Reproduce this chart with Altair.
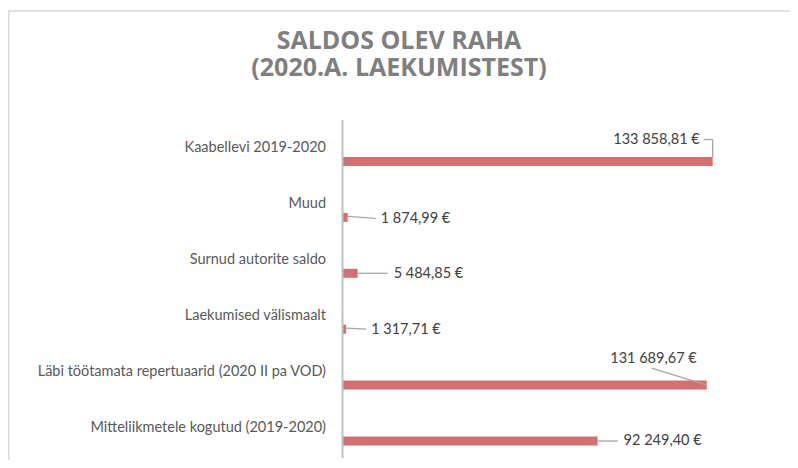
import altair as alt
import pandas as pd

# ---- data ----
categories = [
    "Kaabellevi 2019-2020",
    "Muud\u00a0",
    "Surnud autorite saldo",
    "Laekumised välismaalt",
    "Läbi töötamata repertuaarid (2020 II pa VOD)",
    "Mitteliikmetele kogutud (2019-2020)",
]
values = [133858.81, 1874.99, 5484.85, 1317.71, 131689.67, 92249.40]

title_lines = ["SALDOS OLEV RAHA", "(2020.A. LAEKUMISTEST)"]

# ---- layout (pixel offsets of the moved data labels / leader lines) ----
label_align = ["right", "left", "left", "left", "right", "left"]
label_dx = [-13, 33, 36, 25, -10, 26]
label_dy = [-22, 2, 1, 1, -26.5, 0]
# (row, x0, y0, x1, y1) in px relative to the bar end / bar centre
leader_segments = [
    (0, -9, -22, 0, -22),
    (0, 0, -22, 0, -4),
    (1, 0, -1, 28, 1),
    (2, 0, 0, 30, 0),
    (3, 0, -1, 20, 0),
    (4, -55, -17, 0, 0),
    (5, 0, 0, 20, 0),
]

W, H = 782, 452
X_DOMAIN = [0, 140000]
X_RANGE = [334.5, 334.5 + 140000 / 361.6]
Y_DOMAIN = [0, 5]
Y_RANGE = [153.5, 433]
UPP = (X_DOMAIN[1] - X_DOMAIN[0]) / (X_RANGE[1] - X_RANGE[0])
ROW_PX = (Y_RANGE[1] - Y_RANGE[0]) / (Y_DOMAIN[1] - Y_DOMAIN[0])

BAR_COLOR = "#d4706f"
TEXT_COLOR = "#595959"
VAL_COLOR = "#404040"
LEADER_COLOR = "#a6a6a6"
FONT = "Lato"


def fmt_eur(v):
    s = f"{v:,.2f}".replace(",", "\u00a0").replace(".", ",")
    return s + "\u00a0€"


df = pd.DataFrame({
    "idx": list(range(len(categories))),
    "cat": categories,
    "value": values,
    "zero": [0] * len(values),
})
df["label"] = [fmt_eur(v) for v in values]
df["align"] = label_align
df["lx"] = [v + dx * UPP for v, dx in zip(values, label_dx)]
df["ly"] = [i + dy / ROW_PX for i, dy in zip(df["idx"], label_dy)]

seg = pd.DataFrame(
    [
        {
            "x0": values[r] + x0 * UPP,
            "y0": r + y0 / ROW_PX,
            "x1": values[r] + x1 * UPP,
            "y1": r + y1 / ROW_PX,
        }
        for r, x0, y0, x1, y1 in leader_segments
    ]
)

xs = alt.Scale(domain=X_DOMAIN, range=X_RANGE, nice=False, zero=False, padding=0)
ys = alt.Scale(domain=Y_DOMAIN, range=Y_RANGE, nice=False, zero=False, padding=0)

base = alt.Chart(df)

bars = base.mark_bar(size=9, orient="horizontal", color=BAR_COLOR).encode(
    x=alt.X("value:Q", scale=xs, axis=None),
    y=alt.Y("idx:Q", scale=ys, axis=None),
)

axis_line = alt.Chart(alt.Data(values=[{"v": 0}])).mark_rule(
    color="#bfbfbf", strokeWidth=2
).encode(
    x=alt.X("v:Q", scale=xs, axis=None),
    y=alt.value(112),
    y2=alt.value(450),
)

cat_labels = base.mark_text(
    align="right", baseline="middle", dx=-16.5, dy=-13.5,
    font=FONT, fontSize=14.5, color=TEXT_COLOR,
).encode(
    x=alt.X("zero:Q", scale=xs, axis=None),
    y=alt.Y("idx:Q", scale=ys, axis=None),
    text="cat:N",
)

val_right = base.transform_filter(alt.datum.align == "right").mark_text(
    align="right", baseline="middle", font=FONT, fontSize=14.5, color=VAL_COLOR,
).encode(
    x=alt.X("lx:Q", scale=xs, axis=None),
    y=alt.Y("ly:Q", scale=ys, axis=None),
    text="label:N",
)

val_left = base.transform_filter(alt.datum.align == "left").mark_text(
    align="left", baseline="middle", font=FONT, fontSize=14.5, color=VAL_COLOR,
).encode(
    x=alt.X("lx:Q", scale=xs, axis=None),
    y=alt.Y("ly:Q", scale=ys, axis=None),
    text="label:N",
)

leaders = alt.Chart(seg).mark_rule(color=LEADER_COLOR, strokeWidth=1.3).encode(
    x=alt.X("x0:Q", scale=xs, axis=None),
    x2="x1:Q",
    y=alt.Y("y0:Q", scale=ys, axis=None),
    y2="y1:Q",
)

border_data = alt.Data(values=[{"b": 1}])
border_left = alt.Chart(border_data).mark_rule(color="#d9d9d9", strokeWidth=1.5).encode(
    x=alt.value(0.75), y=alt.value(3), y2=alt.value(H)
)
border_top = alt.Chart(border_data).mark_rule(color="#d9d9d9", strokeWidth=1.5).encode(
    x=alt.value(0), x2=alt.value(W), y=alt.value(3)
)

chart = alt.layer(
    border_left, border_top, bars, axis_line, leaders, cat_labels, val_right, val_left
).properties(
    width=W,
    height=H,
    padding=0,
    autosize=alt.AutoSizeParams(type="none"),
    title=alt.TitleParams(
        text=title_lines,
        font="Open Sans",
        fontSize=25,
        fontWeight="bold",
        color="#7f7f7f",
        lineHeight=27,
        anchor="middle",
        frame="group",
        baseline="top",
        offset=-73,
    ),
).configure_view(stroke=None)

chart.save("out.html", embed_options={"renderer": "svg", "actions": False})
